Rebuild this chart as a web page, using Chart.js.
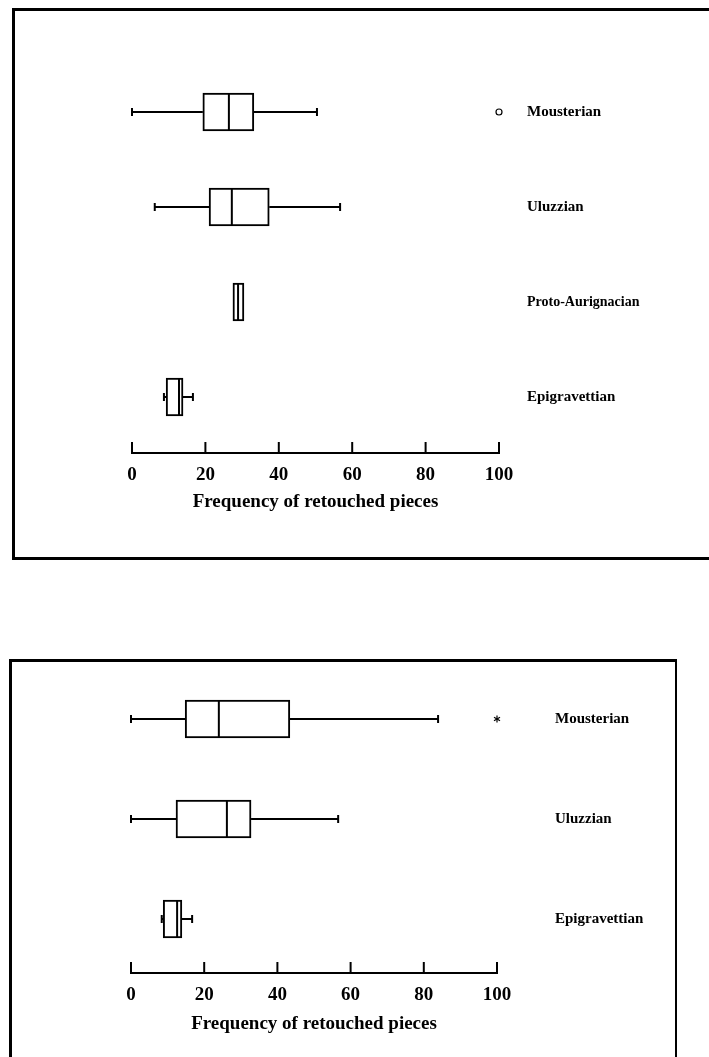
<!DOCTYPE html>
<html>
<head>
<meta charset="utf-8">
<script src="https://cdn.jsdelivr.net/npm/chart.js@4.4.1/dist/chart.umd.min.js"></script>
<style>
  body { margin: 0; background: #fff; width: 709px; height: 1057px; overflow: hidden; position: relative; }
  .panel { position: absolute; box-sizing: border-box; border: 3px solid #000; }
  #panelTop { left: 12px; top: 8px; width: 720px; height: 552px; }
  #panelBottom { left: 9px; top: 659px; width: 668px; height: 420px; border-right-width: 2px; }
  canvas { position: absolute; left: 0; }
</style>
</head>
<body>
<div class="panel" id="panelTop"></div>
<div class="panel" id="panelBottom"></div>
<canvas id="chartTop" width="709" height="560" style="top:0"></canvas>
<canvas id="chartBottom" width="709" height="457" style="top:600px"></canvas>
<script>
// upper panel: four industries
const topCategories = ['Mousterian', 'Uluzzian', 'Proto-Aurignacian', 'Epigravettian'];
const topLow     = [0,    6.2,  27.5, 8.7];
const topQ1      = [19.3, 21.0, 27.5, 9.3];
const topMedian  = [26.4, 27.2, 28.9, 12.8];
const topQ3      = [33.2, 37.4, 30.5, 13.9];
const topHigh    = [50.4, 56.7, 30.5, 16.6];
const topOutlier = [100, null, null, null];

// lower panel: three industries
const bottomCategories = ['Mousterian', 'Uluzzian', 'Epigravettian'];
const bottomLow     = [0,    0,    8.4];
const bottomQ1      = [14.8, 12.3, 8.8];
const bottomMedian  = [24.0, 26.2, 12.6];
const bottomQ3      = [43.4, 32.8, 13.9];
const bottomHigh    = [83.9, 56.6, 16.7];
const bottomOutlier = [100, null, null];

const xTicks = [0, 20, 40, 60, 80, 100];
const axisTitle = 'Frequency of retouched pieces';

const SERIF = "'Liberation Serif', 'DejaVu Serif', serif";
Chart.defaults.font.family = SERIF;
Chart.defaults.color = '#000';

// whiskers, medians, outliers and the up-ticked axis line
const boxExtras = {
    id: 'boxExtras',
    afterDatasetsDraw(chart, args, opts) {
        const { ctx, chartArea } = chart;
        const xs = chart.scales.x;
        const bars = chart.getDatasetMeta(0).data;
        const px = v => xs.getPixelForValue(v);
        const line = (x1, y1, x2, y2) => {
            ctx.beginPath();
            ctx.moveTo(x1, y1);
            ctx.lineTo(x2, y2);
            ctx.stroke();
        };
        ctx.save();
        ctx.strokeStyle = '#000';
        ctx.lineWidth = 2;
        bars.forEach((bar, i) => {
            const y = bar.y;
            const h = bar.height;
            if (opts.low[i] < opts.q1[i]) {
                line(px(opts.low[i]), y, px(opts.q1[i]), y);
                line(px(opts.low[i]), y - 4, px(opts.low[i]), y + 4);
            }
            if (opts.high[i] > opts.q3[i]) {
                line(px(opts.q3[i]), y, px(opts.high[i]), y);
                line(px(opts.high[i]), y - 4, px(opts.high[i]), y + 4);
            }
            line(px(opts.median[i]), y - h / 2 + 1, px(opts.median[i]), y + h / 2 - 1);

            const o = opts.outlier[i];
            if (o !== null) {
                const ox = px(o);
                ctx.lineWidth = 1.2;
                if (opts.outlierStyle === 'circle') {
                    ctx.beginPath();
                    ctx.arc(ox, y, 3, 0, Math.PI * 2);
                    ctx.stroke();
                } else {
                    for (let k = 0; k < 3; k++) {
                        const a = Math.PI / 2 + k * Math.PI / 3;
                        line(ox - 3.5 * Math.cos(a), y - 3.5 * Math.sin(a), ox + 3.5 * Math.cos(a), y + 3.5 * Math.sin(a));
                    }
                }
                ctx.lineWidth = 2;
            }
        });
        // axis line with ticks pointing up
        const base = chartArea.bottom + opts.axisGap;
        line(xs.left - 1, base, xs.right + 1, base);
        xs.ticks.forEach((t, i) => {
            const tx = xs.getPixelForTick(i);
            line(tx, base + 1, tx, base - 11);
        });
        ctx.restore();
    }
};

function makeChart(canvasId, cats, low, q1, median, q3, high, outlier, layout) {
    return new Chart(document.getElementById(canvasId), {
        type: 'bar',
        data: {
            labels: cats,
            datasets: [{
                data: q1.map((v, i) => [v, q3[i]]),
                backgroundColor: '#fff',
                borderColor: '#000',
                borderWidth: 2,
                borderSkipped: false,
                barThickness: 38
            }]
        },
        plugins: [boxExtras],
        options: {
            indexAxis: 'y',
            responsive: false,
            animation: false,
            events: [],
            layout: { padding: { left: layout.left, top: layout.top, right: 0, bottom: 0 } },
            scales: {
                x: {
                    type: 'linear',
                    min: 0,
                    max: 100,
                    afterBuildTicks: scale => { scale.ticks = xTicks.map(v => ({ value: v })); },
                    afterFit: scale => { scale.height = layout.xHeight; },
                    grid: { display: false },
                    border: { display: false },
                    ticks: {
                        padding: layout.tickPad,
                        maxRotation: 0,
                        autoSkip: false,
                        font: { size: 19, weight: 'bold' }
                    },
                    title: {
                        display: true,
                        text: axisTitle,
                        font: { size: 19, weight: 'bold' },
                        padding: { top: 0, bottom: layout.titlePad }
                    }
                },
                y: {
                    type: 'category',
                    position: 'right',
                    offset: true,
                    afterFit: scale => { scale.width = layout.yWidth; },
                    grid: { display: false },
                    border: { display: false },
                    ticks: {
                        crossAlign: 'near',
                        padding: layout.labelPad,
                        autoSkip: false,
                        font: ctx => ({
                            size: ctx.tick && ctx.tick.label === 'Proto-Aurignacian' ? 14 : 15,
                            weight: 'bold'
                        })
                    }
                }
            },
            plugins: {
                legend: { display: false },
                tooltip: { enabled: false },
                boxExtras: {
                    low, q1, median, q3, high, outlier,
                    outlierStyle: layout.outlierStyle,
                    axisGap: layout.axisGap
                }
            }
        }
    });
}

makeChart('chartTop', topCategories, topLow, topQ1, topMedian, topQ3, topHigh, topOutlier, {
    left: 132, top: 64.5, xHeight: 115.5, yWidth: 210,
    tickPad: 11, titlePad: 46.5, labelPad: 20, axisGap: 8.5, outlierStyle: 'circle'
});

makeChart('chartBottom', bottomCategories, bottomLow, bottomQ1, bottomMedian, bottomQ3, bottomHigh, bottomOutlier, {
    left: 131, top: 69, xHeight: 88, yWidth: 212,
    tickPad: 6.6, titlePad: 21.5, labelPad: 50, axisGap: 4, outlierStyle: 'star'
});
</script>
</body>
</html>
